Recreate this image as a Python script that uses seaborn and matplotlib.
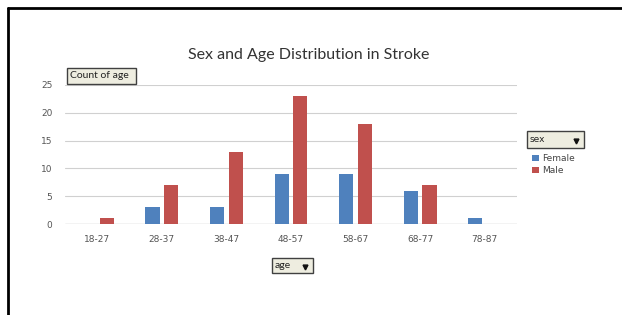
import pandas as pd
import matplotlib
matplotlib.use("Agg")
import matplotlib.pyplot as plt
from matplotlib.lines import Line2D
from matplotlib.patches import Patch, Rectangle
import seaborn as sns

# data
age_groups = ['18-27', '28-37', '38-47', '48-57', '58-67', '68-77', '78-87']
female = [0, 3, 3, 9, 9, 6, 1]
male = [1, 7, 13, 23, 18, 7, 0]
sexes = ['Female', 'Male']
y_ticks = [0, 5, 10, 15, 20, 25]

df = pd.DataFrame({
    'age': age_groups * 2,
    'count': female + male,
    'sex': ['Female'] * len(age_groups) + ['Male'] * len(age_groups),
})

palette = {'Female': '#4F81BD', 'Male': '#C0504D'}

sns.set_style('white')
plt.rcParams['font.family'] = ['DejaVu Sans']

W, H = 622, 315
fig = plt.figure(figsize=(6.22, 3.15), dpi=100)
ax = fig.add_axes([65 / W, 1 - 224 / H, 452 / W, 139 / H])

sns.barplot(data=df, x='age', y='count', hue='sex', order=age_groups,
            hue_order=sexes, palette=palette, width=0.58, gap=0.25,
            saturation=1, linewidth=0, legend=False, ax=ax)

ax.set_ylim(0, 25)
ax.set_xlim(-0.5, len(age_groups) - 0.5)
ax.set_yticks(y_ticks)
ax.yaxis.grid(True, color='#D0D0D0', linewidth=0.8)
ax.set_axisbelow(True)
for s in ax.spines.values():
    s.set_visible(False)
ax.axhline(0, color='#BFBFBF', linewidth=0.9, zorder=0)
ax.tick_params(axis='both', length=0, labelsize=6.5, colors='#555555')
ax.tick_params(axis='y', pad=9)
ax.tick_params(axis='x', pad=8)
ax.set_xlabel('')
ax.set_ylabel('')

# title
fig.text(309 / W, 1 - 55 / H, 'Sex and Age Distribution in Stroke',
         ha='center', va='center', fontsize=11.5, color='#333333', family='Lato')


def field_button(x0, y0, x1, y1, label, arrow=True, family='Lato', size=7):
    # pivot field button drawn in pixel coords of the screenshot
    fig.add_artist(Rectangle((x0 / W, 1 - y1 / H), (x1 - x0) / W, (y1 - y0) / H,
                             transform=fig.transFigure, facecolor='#EEEDE0',
                             edgecolor='#404040', linewidth=1.0))
    fig.text((x0 + 3) / W, 1 - (y0 + y1) / 2 / H, label, ha='left', va='center',
             fontsize=size, color='#222222', family=family)
    if arrow:
        fig.add_artist(Line2D([(x1 - 8) / W], [1 - ((y0 + y1) / 2 + 1) / H],
                              marker='v', markersize=3.5, color='#111111',
                              transform=fig.transFigure))


field_button(67, 68, 136, 84, 'Count of age', arrow=False, size=7.5)
field_button(272, 258, 313, 273, 'age', size=7.5)
field_button(527, 131, 584, 148, 'sex', family='DejaVu Sans', size=6.5)

# legend
handles = [Patch(facecolor=palette[s], edgecolor='none') for s in sexes]
fig.legend(handles, sexes, loc='upper left',
           bbox_to_anchor=(526 / W, 1 - 148 / H), frameon=False,
           fontsize=6.5, labelcolor='#444444', handlelength=0.7,
           handleheight=0.7, handletextpad=0.4, labelspacing=0.35,
           borderpad=0.2)

# outer frame of the screenshot
fig.add_artist(Line2D([8 / W, 8 / W], [0, 1 - 8 / H], color='black',
                      linewidth=2, transform=fig.transFigure))
fig.add_artist(Line2D([8 / W, 1], [1 - 8 / H, 1 - 8 / H], color='black',
                      linewidth=2, transform=fig.transFigure))

fig.savefig('out.png', dpi=100)
